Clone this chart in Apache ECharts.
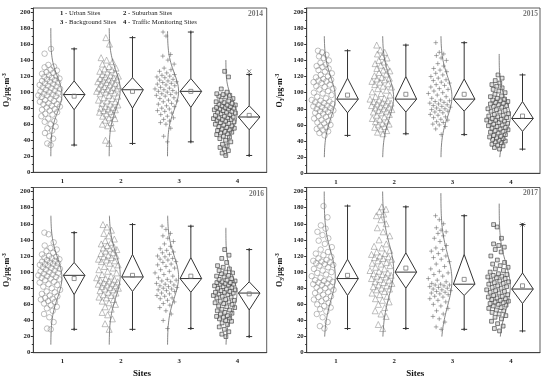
<!DOCTYPE html>
<html><head><meta charset="utf-8">
<script src="https://cdn.jsdelivr.net/npm/echarts@6/dist/echarts.min.js"></script>
<style>html,body{margin:0;padding:0;background:#fff}#c{width:550px;height:383px}</style>
</head><body><div id="c"></div>
<script>
// ---------- data ----------
const years = ['2014', '2015', '2016', '2017'];
const siteTicks = ['1', '2', '3', '4'];
const siteNames = ['Urban Sites', 'Suburban Sites', 'Background Sites', 'Traffic Monitoring Sites'];
const xTitle = 'Sites';

// box statistics per site: [min, Q1, median, Q3, max, mean]
const stats2014 = [[34,78,97,114,154,95],[36,80,103,118,168,101],[38,81,101,117,175,101],[21,53,69,83,122,71]];
const stats2015 = [[47,75,92,118,152,97],[49,76,92,120,159,98],[48,77,92,117,162,98],[30,52,68,89,122,71]];
const stats2016 = [[29,72,96,112,149,92],[29,76,94,122,159,96],[30,75,92,118,157,95],[20,53,74,88,128,73]];
const stats2017 = [[30,71,92,116,182,96],[30,80,100,124,181,105],[29,71,85,122,170,91],[27,61,79,99,159,83]];

// normal curve per site: [centre, sd, from, to]
const curve2014 = [[97,22,20,180],[103,24,20,180],[101,23,20,176],[72,19,20,140]];
const curve2015 = [[94,25,20,170],[94,26,20,170],[95,25,20,170],[70,21,20,148]];
const curve2016 = [[93,25,10,170],[96,27,10,170],[94,26,10,170],[73,22,10,155]];
const curve2017 = [[95,30,20,200],[103,32,20,200],[90,32,20,198],[82,29,20,185]];

// extreme markers (x) : [site, value]
const extreme2014 = [[4,126]];
const extreme2015 = [];
const extreme2016 = [];
const extreme2017 = [[4,159]];

// daily O3 values per site
const urban2014 = [34,36,42,45,49,52,55,57,60,63,64,67,70,72,73,75,77,78,79,81,82,83,85,85,86,88,89,90,91,92,94,95,96,96,97,98,99,100,101,102,103,104,105,106,107,108,109,110,111,112,113,114,115,116,117,118,119,120,121,123,124,125,127,128,131,132,134,148,154];
const suburban2014 = [36,40,55,58,60,62,65,67,68,70,72,73,75,76,77,78,79,80,81,82,84,85,86,88,89,90,92,93,95,96,98,99,100,101,102,103,104,104,105,106,107,108,109,110,111,112,113,114,115,116,116,117,118,119,120,121,122,124,125,126,128,129,130,132,135,138,140,143,160,168];
const background2014 = [38,45,55,60,62,64,66,68,70,72,74,76,77,79,80,82,83,85,86,88,89,90,92,93,95,96,97,98,99,100,101,102,103,104,105,106,108,109,110,111,112,113,114,115,116,118,119,120,121,122,124,126,128,130,135,140,145,147,170,175];
const traffic2014 = [21,24,27,29,31,33,35,38,40,42,44,45,47,48,49,50,51,52,53,54,55,56,57,58,59,60,61,62,63,64,65,66,66,67,68,68,69,70,71,72,73,74,75,75,76,77,78,79,79,80,81,81,82,83,84,84,85,86,87,88,89,90,92,94,95,96,97,98,100,104,119,126];

const urban2015 = [47,50,52,54,55,57,58,60,62,63,65,66,68,70,71,72,74,75,76,77,78,79,80,81,82,83,84,85,86,87,88,89,90,91,93,95,97,99,100,102,104,105,107,108,110,112,113,114,115,116,117,119,120,122,124,126,128,130,132,133,135,137,140,143,145,147,150,152];
const suburban2015 = [49,51,53,55,57,58,60,61,62,64,65,67,68,70,72,73,75,76,77,78,79,80,81,82,83,84,85,86,87,88,89,90,91,92,93,95,97,99,101,103,105,107,108,110,111,113,114,116,117,118,119,121,123,125,127,128,130,132,134,136,138,140,143,145,148,150,153,159];
const background2015 = [48,55,58,60,61,63,64,66,67,69,70,72,73,75,76,77,78,79,80,81,82,83,84,85,86,87,88,89,90,91,93,95,97,99,100,102,104,105,107,109,110,112,113,115,116,118,120,122,124,126,128,130,133,136,140,143,146,148,150,162];
const traffic2015 = [30,32,34,35,36,38,39,40,41,42,43,44,45,46,47,48,50,51,52,53,54,55,56,57,58,59,60,61,62,63,64,65,66,66,67,68,69,70,71,72,73,74,76,77,78,79,80,82,83,84,85,86,87,88,89,90,91,92,93,95,96,98,100,102,104,106,108,110,112,115,118,122];

const urban2016 = [29,30,38,44,48,52,55,57,59,61,63,64,66,67,68,70,71,73,75,76,78,80,82,84,85,87,88,90,91,92,93,94,95,96,97,98,99,100,101,102,103,104,105,106,107,108,109,110,110,111,112,113,114,115,116,117,118,119,120,122,124,126,128,130,133,137,147,149];
const suburban2016 = [29,36,42,47,50,54,57,60,62,64,66,68,69,71,72,74,75,77,78,79,80,81,82,83,84,85,86,87,88,89,90,91,92,93,95,97,99,101,103,105,107,109,111,113,114,115,116,118,119,120,121,123,124,126,128,129,130,131,133,135,137,139,141,145,148,152,156,159];
const background2016 = [30,40,48,52,56,59,61,63,65,67,68,70,71,73,74,76,77,78,79,80,81,82,83,84,85,86,88,89,90,91,93,95,97,99,101,103,105,107,109,110,112,113,115,116,117,119,120,122,124,125,127,129,132,135,138,142,145,148,153,157];
const traffic2016 = [20,23,26,29,32,35,37,39,40,42,43,44,45,46,48,49,50,52,53,54,56,57,58,60,61,62,63,64,65,66,68,69,70,71,72,73,74,75,75,76,77,78,79,80,81,82,83,84,85,85,86,87,87,88,89,90,91,92,94,95,96,98,99,100,102,104,106,108,112,117,121,128];

const urban2017 = [30,33,38,44,48,51,54,56,58,60,62,64,66,67,69,70,72,74,75,77,78,80,81,82,84,85,86,87,88,89,90,91,93,95,97,99,100,102,104,106,108,109,110,111,112,113,114,115,117,119,121,123,125,128,131,135,139,142,146,150,154,158,168,182];
const suburban2017 = [30,35,45,48,52,56,60,63,65,67,70,72,74,76,78,79,80,82,83,84,86,87,88,90,91,92,94,95,96,97,98,99,101,102,104,106,108,110,111,112,114,116,117,118,119,120,122,123,125,127,130,132,135,140,145,150,155,160,165,170,172,175,178,181];
const background2017 = [29,32,38,42,45,48,52,55,58,60,63,65,67,69,70,72,73,74,75,76,77,78,79,80,81,82,83,84,84,85,86,88,90,92,95,97,99,101,104,107,110,113,116,118,120,123,126,128,130,133,138,142,145,148,150,152,155,160,165,170];
const traffic2017 = [27,30,33,36,39,42,44,46,48,50,52,53,55,56,58,59,60,61,62,63,64,65,66,67,68,69,70,71,72,74,75,76,77,78,80,81,82,83,85,86,87,88,89,90,92,93,94,95,96,97,98,100,102,104,106,108,110,112,115,120,125,128,131,133,135,142,156,159];

// ---------- layout / style ----------
const FONT = '"Liberation Serif", "Times New Roman", serif';
const panels = [
  {year: years[0], stats: stats2014, curves: curve2014, extremes: extreme2014, groups: [urban2014, suburban2014, background2014, traffic2014],
   grid: {left: 33.3, right: 283.3, top: 8, bottom: 210.7}, yearPos: [263, 14.5], bottomPanel: false},
  {year: years[1], stats: stats2015, curves: curve2015, extremes: extreme2015, groups: [urban2015, suburban2015, background2015, traffic2015],
   grid: {left: 306.7, right: 10, top: 8, bottom: 209.7}, yearPos: [538, 14.5], bottomPanel: false},
  {year: years[2], stats: stats2016, curves: curve2016, extremes: extreme2016, groups: [urban2016, suburban2016, background2016, traffic2016],
   grid: {left: 33.3, right: 283.3, top: 187.5, bottom: 30.3}, yearPos: [264, 194.5], bottomPanel: true},
  {year: years[3], stats: stats2017, curves: curve2017, extremes: extreme2017, groups: [urban2017, suburban2017, background2017, traffic2017],
   grid: {left: 306.7, right: 10, top: 187.5, bottom: 30.3}, yearPos: [538, 193.5], bottomPanel: true}
];

const plusPath = 'path://M0,5L10,5M5,0L5,10';
const sqPath = 'path://M0,0L10,0L10,10L0,10Z';
const crossPath = 'path://M0,0L10,10M10,0L0,10';
const groupSymbols = [
  {symbol: 'circle', size: 5.5, style: {color: 'rgba(255,255,255,0)', borderColor: '#7a7a7a', borderWidth: 0.6}},
  {symbol: 'triangle', size: 6, style: {color: 'rgba(255,255,255,0)', borderColor: '#7a7a7a', borderWidth: 0.6}},
  {symbol: plusPath, size: 4.5, style: {color: 'none', borderColor: '#666', borderWidth: 0.7}},
  {symbol: sqPath, size: 3.8, style: {color: '#d8d8d8', borderColor: '#222', borderWidth: 0.7}}
];

const SCATTER_OFF = -0.22, CURVE_OFF = -0.2, BOX_OFF = 0.2, CURVE_AMP = 0.19, BOX_HW = 0.185;

function jitter(site, v, i, c) {
  const u = ((i + 1) * 0.6180339887) % 1;
  const w = 0.3 + 0.7 * Math.exp(-((v - c[0]) ** 2) / (2 * c[1] * c[1] * 1.8));
  return site + SCATTER_OFF + (u - 0.5) * 0.4 * w;
}

function renderBox(params, api) {
  const c = api.value(0);
  const mn = api.value(1), q1 = api.value(2), md = api.value(3), q3 = api.value(4), mx = api.value(5), mean = api.value(6);
  const P = (x, y) => api.coord([x, y]);
  const top = P(c, q3), bot = P(c, q1), L = P(c - BOX_HW, md), R = P(c + BOX_HW, md);
  const pmx = P(c, mx), pmn = P(c, mn), pm = P(c, mean);
  const st = {stroke: '#333', lineWidth: 1, fill: null};
  const cap = 3;
  return {type: 'group', children: [
    {type: 'line', shape: {x1: pmx[0], y1: pmx[1], x2: top[0], y2: top[1]}, style: st},
    {type: 'line', shape: {x1: bot[0], y1: bot[1], x2: pmn[0], y2: pmn[1]}, style: st},
    {type: 'line', shape: {x1: pmx[0] - cap, y1: pmx[1], x2: pmx[0] + cap, y2: pmx[1]}, style: st},
    {type: 'line', shape: {x1: pmn[0] - cap, y1: pmn[1], x2: pmn[0] + cap, y2: pmn[1]}, style: st},
    {type: 'line', shape: {x1: pmx[0], y1: pmx[1] - 1.5, x2: pmx[0], y2: pmx[1] + 1.5}, style: st},
    {type: 'line', shape: {x1: pmn[0], y1: pmn[1] - 1.5, x2: pmn[0], y2: pmn[1] + 1.5}, style: st},
    {type: 'polygon', shape: {points: [top, R, bot, L]}, style: st},
    {type: 'line', shape: {x1: L[0], y1: L[1], x2: R[0], y2: R[1]}, style: st},
    {type: 'rect', shape: {x: pm[0] - 2, y: pm[1] - 2, width: 4, height: 4}, style: {stroke: '#777', fill: null, lineWidth: 0.8}}
  ]};
}

const grid = [], xAxis = [], yAxis = [], series = [], graphic = [];
const labelStyle = {fontFamily: FONT, fontWeight: 'bold', fontSize: 6.8, color: '#222'};

panels.forEach((p, k) => {
  grid.push(Object.assign({show: true, borderColor: '#333', borderWidth: 0.8, backgroundColor: 'transparent'}, p.grid));
  xAxis.push({type: 'category', gridIndex: k, data: siteTicks, boundaryGap: true,
    axisLine: {lineStyle: {color: '#333', width: 0.8}},
    axisTick: {inside: true, alignWithLabel: true, length: 3, lineStyle: {color: '#333'}},
    axisLabel: Object.assign({margin: 5}, labelStyle), splitLine: {show: false}});
  xAxis.push({type: 'value', gridIndex: k, min: 0.5, max: 4.5, show: false});
  yAxis.push({type: 'value', gridIndex: k, min: 0, max: 205, interval: 20,
    axisLine: {show: true, lineStyle: {color: '#333', width: 0.8}},
    axisTick: {show: true, length: 2.5, lineStyle: {color: '#333'}},
    minorTick: {show: true, splitNumber: 2, length: 1.5, lineStyle: {color: '#333'}},
    axisLabel: Object.assign({margin: 3, formatter: v => (v % 20 === 0 ? String(v) : '')}, labelStyle),
    splitLine: {show: false},
    name: '{b|O}{sub|3}{b|/μg·m}{sup|-3}', nameLocation: 'middle', nameGap: 21, nameRotate: 90,
    nameTextStyle: {rich: {
      b: {fontFamily: FONT, fontWeight: 'bold', fontSize: 8, color: '#111', lineHeight: 11},
      sub: {fontFamily: FONT, fontWeight: 'bold', fontSize: 5.5, color: '#111', lineHeight: 6, verticalAlign: 'bottom'},
      sup: {fontFamily: FONT, fontWeight: 'bold', fontSize: 5.5, color: '#111', lineHeight: 6, verticalAlign: 'top'}
    }}
  });

  p.groups.forEach((vals, g) => {
    const site = g + 1;
    const c = p.curves[g];
    const sym = groupSymbols[g];
    series.push({type: 'scatter', xAxisIndex: 2 * k + 1, yAxisIndex: k, symbol: sym.symbol, symbolSize: sym.size,
      itemStyle: sym.style, silent: true, z: 2,
      data: vals.map((v, i) => [jitter(site, v, i, c), v])});
    const pts = [];
    for (let y = c[2]; y <= c[3] + 0.001; y += 1) {
      pts.push([site + CURVE_OFF + CURVE_AMP * Math.exp(-((y - c[0]) ** 2) / (2 * c[1] * c[1])), y]);
    }
    series.push({type: 'line', xAxisIndex: 2 * k + 1, yAxisIndex: k, data: pts, showSymbol: false, symbol: 'none',
      lineStyle: {color: '#666', width: 0.8}, silent: true, z: 3});
  });

  series.push({type: 'custom', xAxisIndex: 2 * k + 1, yAxisIndex: k, renderItem: renderBox, silent: true, z: 4,
    encode: {x: 0, y: [1, 2, 3, 4, 5, 6]},
    data: p.stats.map((s, g) => [g + 1 + BOX_OFF].concat(s))});

  if (p.extremes.length) {
    series.push({type: 'scatter', xAxisIndex: 2 * k + 1, yAxisIndex: k, symbol: crossPath, symbolSize: 4, silent: true, z: 5,
      itemStyle: {color: 'none', borderColor: '#333', borderWidth: 0.8},
      data: p.extremes.map(e => [e[0] + BOX_OFF, e[1]])});
  }

  graphic.push({type: 'text', x: p.yearPos[0], y: p.yearPos[1], silent: true,
    style: {text: p.year, fontFamily: FONT, fontWeight: 'bold', fontSize: 7.5, fill: '#777', align: 'right', verticalAlign: 'middle'}});
  if (p.bottomPanel) {
    const cx = p.grid.left + (550 - p.grid.left - p.grid.right) / 2 - 8;
    graphic.push({type: 'text', x: cx, y: 374, silent: true,
      style: {text: xTitle, fontFamily: FONT, fontWeight: 'bold', fontSize: 9, fill: '#111', align: 'center', verticalAlign: 'middle'}});
  }
});

// legend texts in first panel
const legendPos = [[60, 13], [123, 13], [60, 22.5], [123, 22.5]];
siteNames.forEach((n, i) => {
  graphic.push({type: 'text', x: legendPos[i][0], y: legendPos[i][1], silent: true,
    style: {text: '{n|' + siteTicks[i] + '} - ' + n, fontFamily: FONT, fontSize: 6.7, fill: '#222', verticalAlign: 'middle',
      rich: {n: {fontFamily: FONT, fontWeight: 'bold', fontSize: 6.7, fill: '#111'}}}});
});

const chart = echarts.init(document.getElementById('c'), null, {renderer: 'canvas'});
chart.setOption({animation: false, grid, xAxis, yAxis, series, graphic});
</script></body></html>
